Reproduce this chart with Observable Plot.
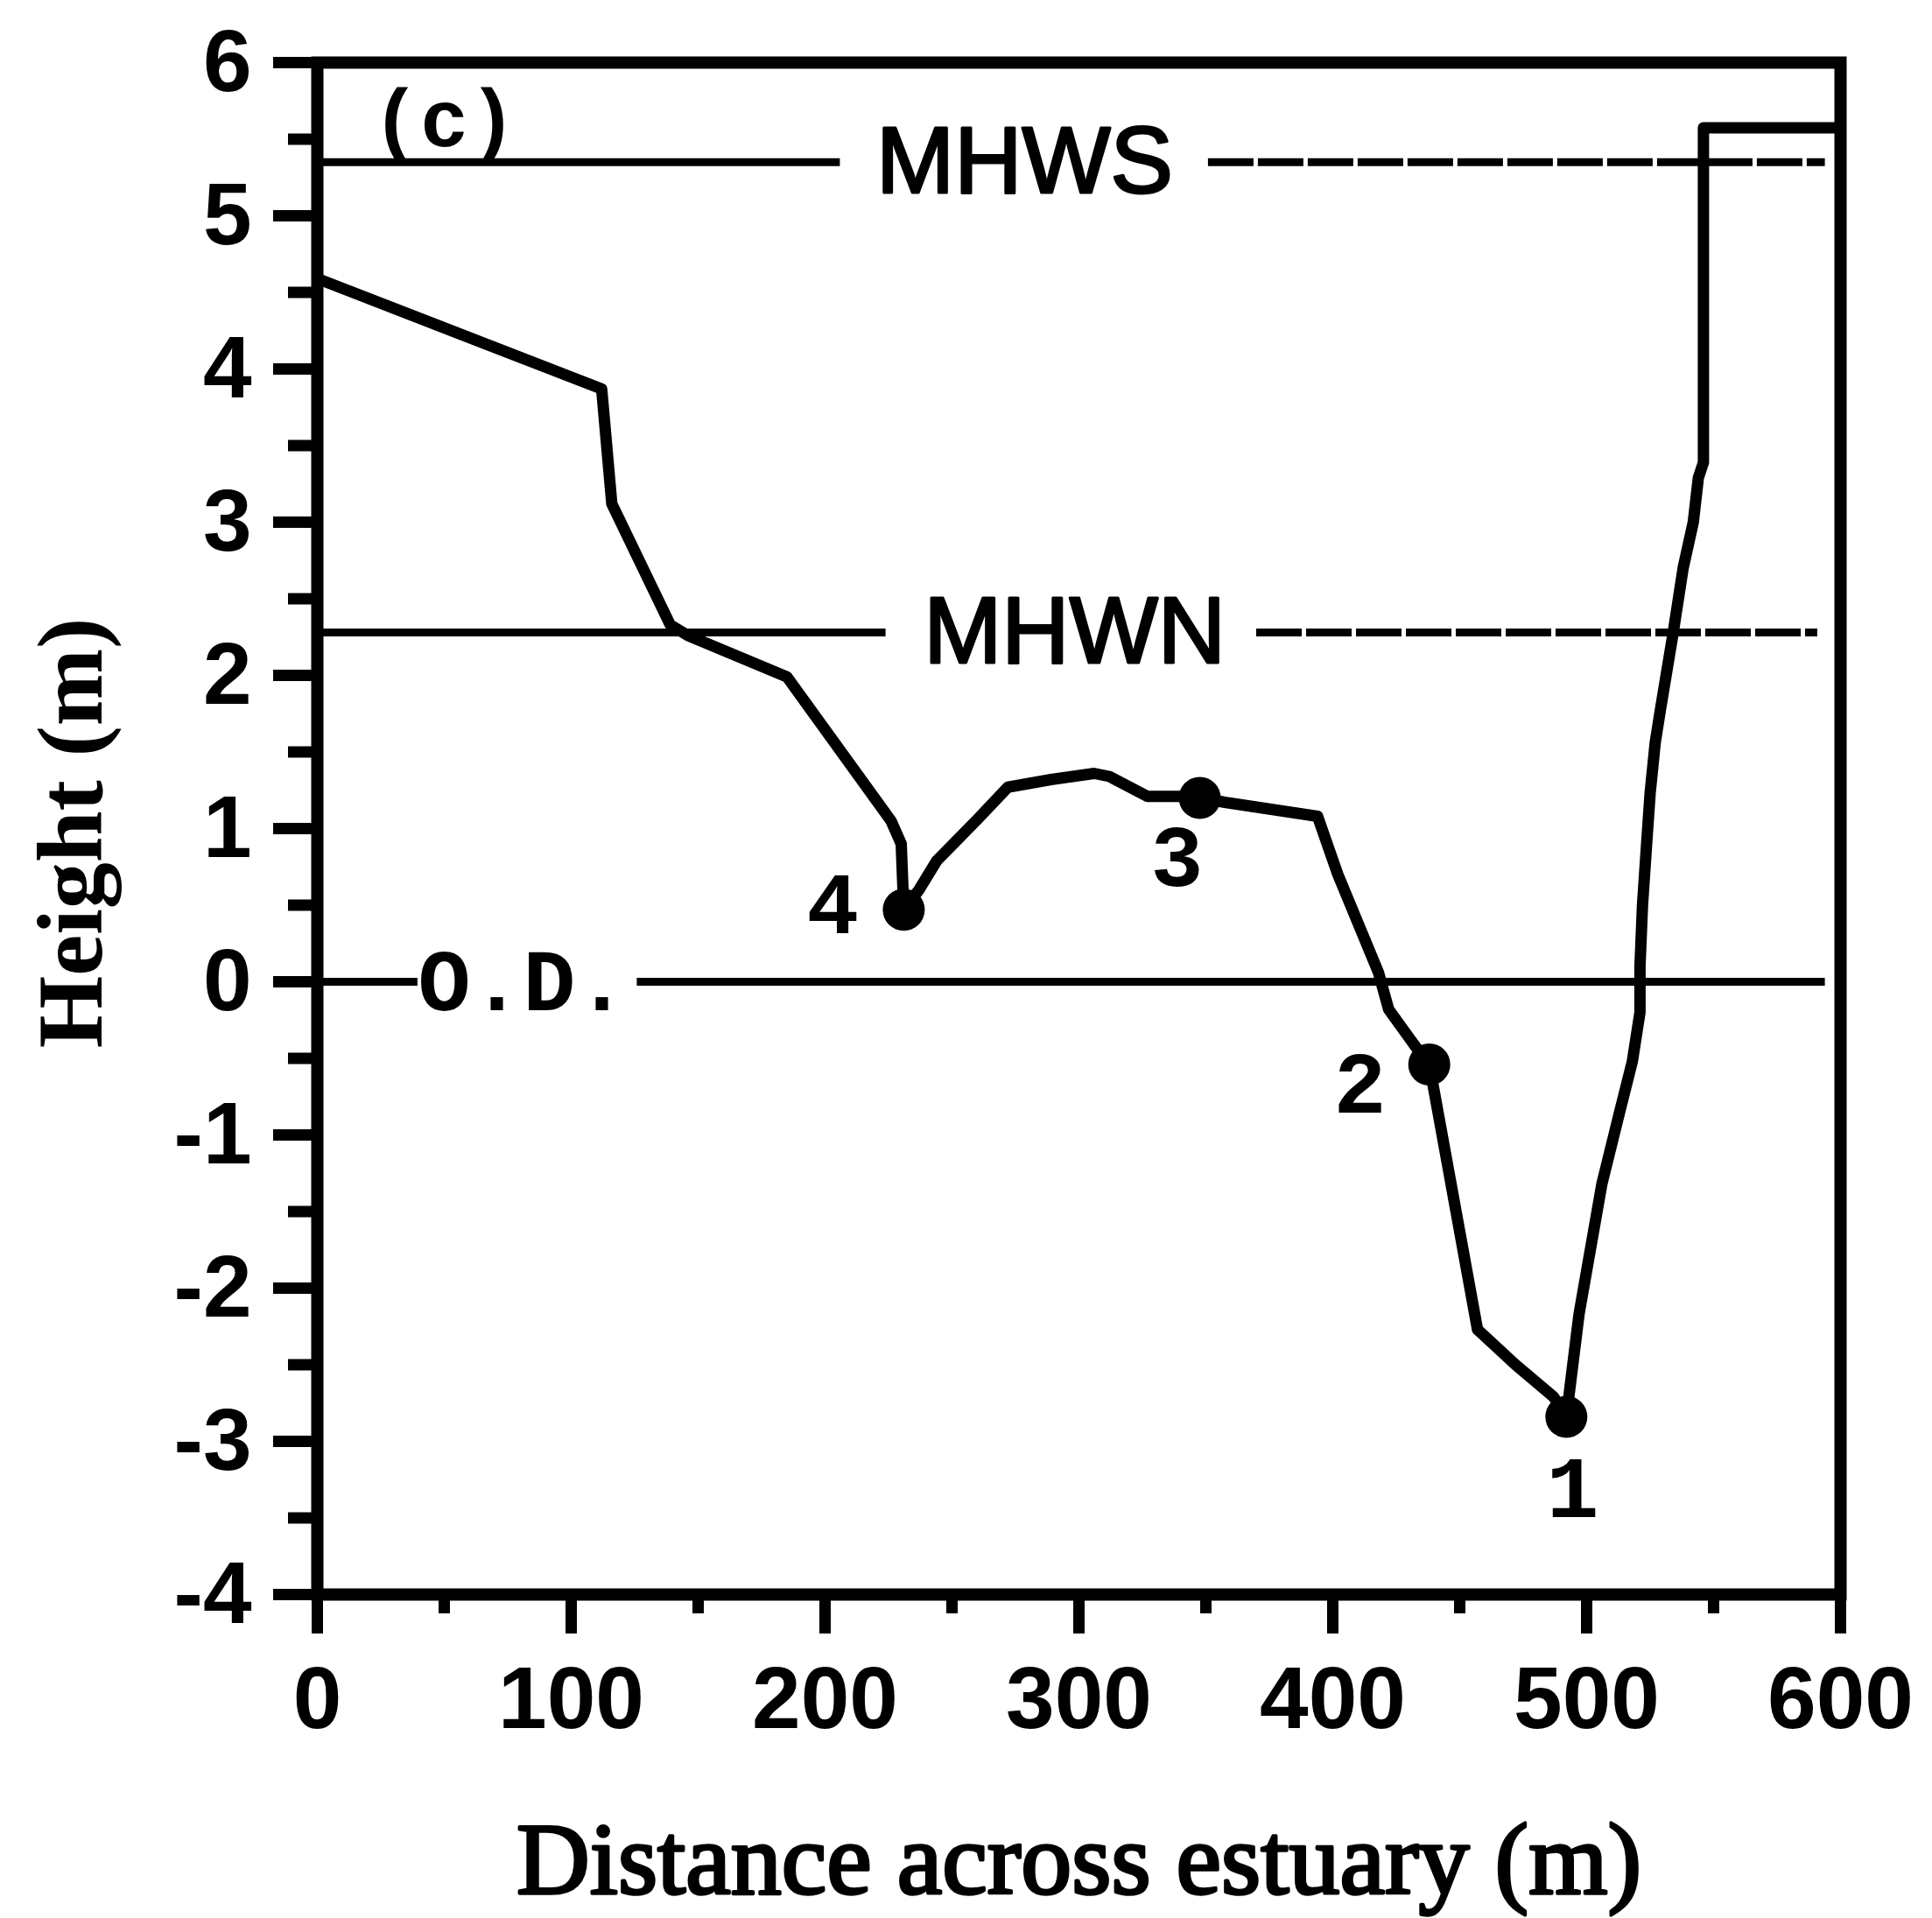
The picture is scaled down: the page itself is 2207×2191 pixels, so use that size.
<!DOCTYPE html>
<html><head><meta charset="utf-8">
<script src="https://cdn.jsdelivr.net/npm/d3@7"></script>
<script src="https://cdn.jsdelivr.net/npm/@observablehq/plot@0.6"></script>
<style>
html,body{margin:0;padding:0;background:#fff;}
svg{display:block;}
</style>
</head><body><div id="chart"></div>
<script>
// Cross-section profile across the estuary (distance m, height m)
const profileX = [0, 112, 116, 139, 146, 185, 226, 230, 231, 237, 244, 260, 272, 289, 306, 312, 327, 341, 347.6, 358, 394, 402, 418, 422, 432, 438, 440, 457, 472, 487, 492, 497, 506, 513, 518, 521, 521, 522, 523.5, 525, 527, 529, 534, 538, 542, 544, 546, 546, 600];
const profileY = [4.59, 3.87, 3.12, 2.33, 2.26, 1.99, 1.05, 0.90, 0.47, 0.60, 0.79, 1.06, 1.27, 1.32, 1.36, 1.34, 1.21, 1.21, 1.20, 1.17, 1.08, 0.70, 0.06, -0.18, -0.41, -0.54, -0.72, -2.27, -2.50, -2.71, -2.84, -2.17, -1.32, -0.85, -0.52, -0.20, 0.10, 0.50, 0.87, 1.23, 1.56, 1.77, 2.27, 2.70, 3.00, 3.29, 3.39, 5.575, 5.575];

// Sampling stations
const sampleIds = ["1", "2", "3", "4"];
const sampleX = [492, 438, 347.6, 231];
const sampleY = [-2.84, -0.54, 1.20, 0.47];
const sampleLabelX = [494.5, 410.7, 338.6, 203];
const sampleLabelY = [-3.31, -0.67, 0.81, 0.50];

// Tidal reference levels
const levelNames = ["MHWS", "MHWN", "O.D."];
const levelY = [5.35, 2.28, 0];
const levelLabelX = [278.6, 298.3, 81];
const segLevel = [0, 0, 1, 1, 2, 2];
const segX1 = [0, 351, 0, 370, 0, 126];
const segX2 = [206, 594, 224, 591, 39.6, 594];
const segDashed = [false, true, false, true, false, false];

// Axes
const xMajor = [0, 100, 200, 300, 400, 500, 600];
const xMinor = [50, 150, 250, 350, 450, 550];
const yMajor = [-4, -3, -2, -1, 0, 1, 2, 3, 4, 5, 6];
const yMinor = [-3.5, -2.5, -1.5, -0.5, 0.5, 1.5, 2.5, 3.5, 4.5, 5.5];
const panelLabel = "(c)";
const panelLabelX = 50;
const panelLabelY = 5.62;
const xTitle = "Distance across estuary (m)";
const yTitle = "Height (m)";

const profile = profileX.map((x, i) => ({x, y: profileY[i]}));
const samples = sampleIds.map((id, i) => ({id, x: sampleX[i], y: sampleY[i], lx: sampleLabelX[i], ly: sampleLabelY[i]}));
const segs = segLevel.map((l, i) => ({y: levelY[l], x1: segX1[i], x2: segX2[i], dashed: segDashed[i]}));
const levels = levelNames.map((n, i) => ({name: n, y: levelY[i], x: levelLabelX[i]}));

const sans = "Liberation Sans, Arial, sans-serif";
const mono = "Liberation Mono, Courier New, monospace";
const serif = "Liberation Serif, Times New Roman, serif";

const chart = Plot.plot({
  width: 2207,
  height: 2191,
  marginLeft: 362,
  marginRight: 105,
  marginTop: 71,
  marginBottom: 370,
  style: {fontFamily: sans, fontSize: "100px", fontWeight: "bold", color: "black", background: "white"},
  x: {domain: [0, 600]},
  y: {domain: [-4, 6]},
  marks: [
    Plot.ruleY(segs.filter(d => !d.dashed), {y: "y", x1: "x1", x2: "x2", stroke: "black", strokeWidth: 9}),
    Plot.ruleY(segs.filter(d => d.dashed), {y: "y", x1: "x1", x2: "x2", stroke: "black", strokeWidth: 9, strokeDasharray: "52,5"}),
    Plot.text(levels.filter(d => d.name !== "O.D."), {x: "x", y: "y", text: "name", fontFamily: sans, fontWeight: "normal", fontSize: 107, lineAnchor: "middle", fill: "black", stroke: "black", strokeWidth: 3}),
    Plot.text(levels.filter(d => d.name === "O.D."), {x: "x", y: "y", text: "name", fontFamily: mono, fontWeight: "bold", fontSize: 100, lineAnchor: "middle", fill: "black"}),
    Plot.line(profile, {x: "x", y: "y", stroke: "black", strokeWidth: 13, strokeLinejoin: "round", strokeLinecap: "round"}),
    Plot.dot(samples, {x: "x", y: "y", r: 24, fill: "black", stroke: "none"}),
    Plot.text(samples, {x: "lx", y: "ly", text: "id", fontFamily: mono, fontWeight: "bold", fontSize: 100, lineAnchor: "middle", fill: "black"}),
    Plot.text([panelLabel], {x: () => panelLabelX, y: () => panelLabelY, text: d => d, fontFamily: mono, fontWeight: "bold", fontSize: 92, lineAnchor: "middle", fill: "black"}),
    Plot.frame({stroke: "black", strokeWidth: 14}),
    Plot.axisX({ticks: xMajor, tickSize: 45, tickPadding: 36, strokeWidth: 13, tickFormat: d => String(d), label: null, fontSize: 100, fontWeight: "bold", fontFamily: sans}),
    Plot.axisX({ticks: xMinor, tickSize: 22, strokeWidth: 13, tickFormat: () => "", label: null}),
    Plot.axisY({ticks: yMajor, tickSize: 50, tickPadding: 25, strokeWidth: 13, tickFormat: d => (d < 0 ? "-" + Math.abs(d) : String(d)), label: null, fontSize: 100, fontWeight: "bold", fontFamily: sans}),
    Plot.axisY({ticks: yMinor, tickSize: 33, strokeWidth: 13, tickFormat: () => "", label: null}),
    Plot.text([xTitle], {frameAnchor: "bottom", dy: 341, text: d => d, lineAnchor: "bottom", textAnchor: "middle", fontFamily: serif, fontWeight: "normal", fontSize: 116, fill: "black", stroke: "black", strokeWidth: 3.5}),
    Plot.text([yTitle], {frameAnchor: "left", dx: -247, dy: 5, rotate: -90, text: d => d, lineAnchor: "bottom", textAnchor: "middle", fontFamily: serif, fontWeight: "bold", fontSize: 106, fill: "black"})
  ]
});
document.getElementById("chart").appendChild(chart);
</script>
</body></html>
